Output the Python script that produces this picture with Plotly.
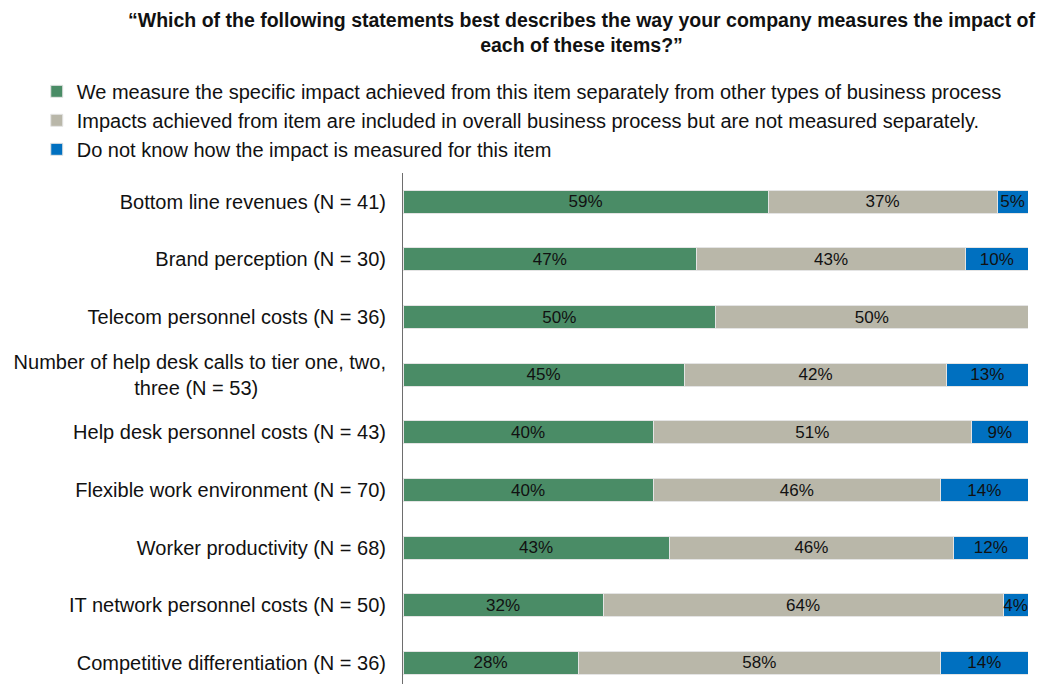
import plotly.graph_objects as go

# Survey items, listed bottom-to-top as they appear on the y axis
items = [
    "Competitive differentiation (N = 36)",
    "IT network personnel costs (N = 50)",
    "Worker productivity (N = 68)",
    "Flexible work environment (N = 70)",
    "Help desk personnel costs (N = 43)",
    "Number of help desk calls to tier one, two,<br>three (N = 53)" + "\u00a0" * 23,
    "Telecom personnel costs (N = 36)",
    "Brand perception (N = 30)",
    "Bottom line revenues (N = 41)",
]

measured_separately = [28, 32, 43, 40, 40, 45, 50, 47, 59]
included_not_separate = [58, 64, 46, 46, 51, 42, 50, 43, 37]
do_not_know = [14, 4, 12, 14, 9, 13, 0, 10, 5]

series_names = [
    "We measure the specific impact achieved from this item separately from other types of business process",
    "Impacts achieved from item are included in overall business process but are not measured separately.",
    "Do not know how the impact is measured for this item",
]
series_values = [measured_separately, included_not_separate, do_not_know]
series_colors = ["#4a8c66", "#b9b7a9", "#0070c0"]

FONT = "Liberation Sans, Arial, sans-serif"

fig = go.Figure()
for i, (name, vals, col) in enumerate(zip(series_names, series_values, series_colors)):
    fig.add_trace(go.Bar(
        y=items,
        x=vals,
        name=name,
        orientation="h",
        legendgroup=f"g{i}",
        marker=dict(color=col, line=dict(color="#e4e4e4", width=1)),
        text=[f"{v}%" if v > 0 else "" for v in vals],
        textposition="inside",
        insidetextanchor="middle",
        textfont=dict(color="#111111", size=17, family=FONT),
        constraintext="none",
        hoverinfo="skip",
    ))

fig.add_annotation(
    text="<b>“Which of the following statements best describes the way your company measures the impact of<br>each of these items?”</b>",
    xref="paper", yref="paper",
    x=0.286, y=1.325, xanchor="center", yanchor="top",
    showarrow=False, align="center",
    font=dict(size=19.5, family=FONT, color="#111111"),
)

fig.update_layout(
    width=1052,
    height=684,
    barmode="stack",
    barnorm="percent",
    bargap=0.6,
    plot_bgcolor="white",
    paper_bgcolor="white",
    margin=dict(l=403, r=24, t=173, b=0),
    uniformtext=dict(minsize=17, mode="show"),
    font=dict(family=FONT, size=16, color="#111111"),
    legend=dict(
        x=-0.586, xanchor="left",
        y=1.198, yanchor="top",
        orientation="v",
        traceorder="normal",
        tracegroupgap=10,
        font=dict(size=20, family=FONT, color="#111111"),
        itemwidth=30,
        bgcolor="rgba(0,0,0,0)",
    ),
    showlegend=True,
)

fig.update_xaxes(
    range=[0, 100],
    showgrid=False, zeroline=False, showticklabels=False, showline=False, ticks="",
)
fig.update_yaxes(
    range=[-0.365, 8.5],
    showgrid=False, zeroline=False,
    showline=True, linecolor="#6e6e6e", linewidth=1,
    ticks="", ticklabelstandoff=12,
    tickfont=dict(size=20, family=FONT, color="#111111"),
)

fig.write_html("out.html")
